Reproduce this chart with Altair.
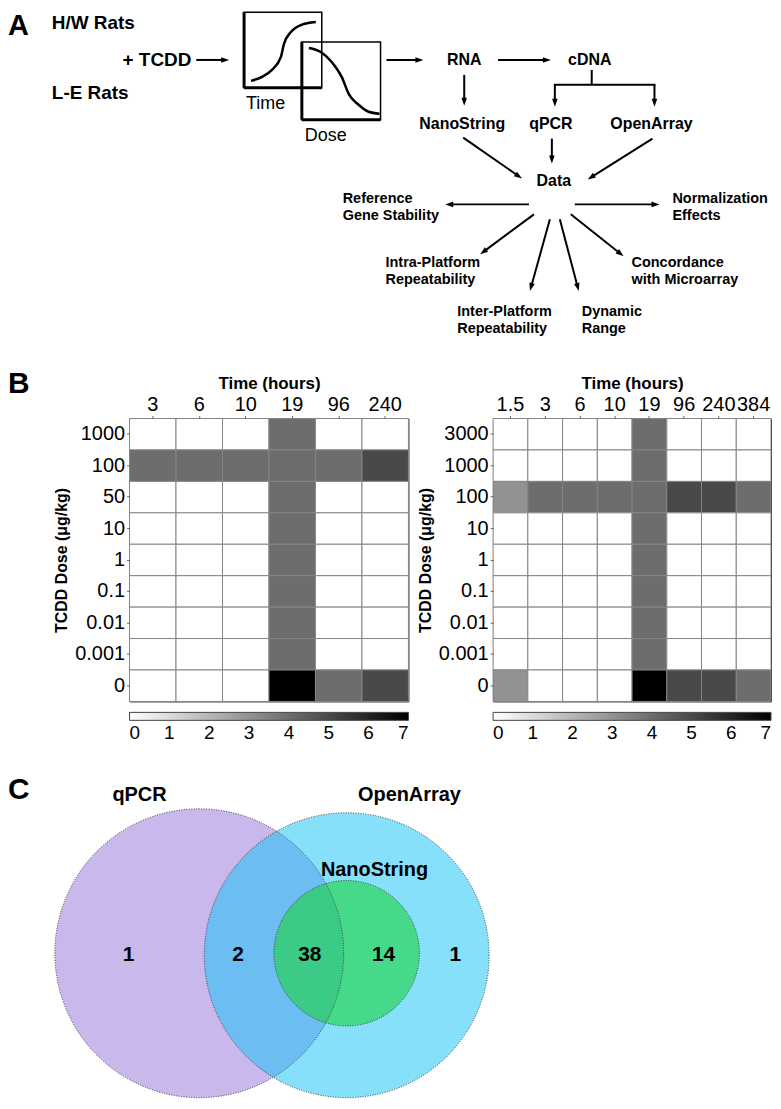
import math
import altair as alt
import pandas as pd

FONT = "Liberation Sans"
NARROW = "Liberation Sans Narrow, Liberation Sans, Arial, sans-serif"

# ---------------- Panel B data (heatmaps) ----------------
hw_times = ["3", "6", "10", "19", "96", "240"]
hw_doses = ["1000", "100", "50", "10", "1", "0.1", "0.01", "0.001", "0"]
hw_values = [
    [0, 0, 0, 4, 0, 0],
    [4, 4, 4, 4, 4, 5],
    [0, 0, 0, 4, 0, 0],
    [0, 0, 0, 4, 0, 0],
    [0, 0, 0, 4, 0, 0],
    [0, 0, 0, 4, 0, 0],
    [0, 0, 0, 4, 0, 0],
    [0, 0, 0, 4, 0, 0],
    [0, 0, 0, 7, 4, 5],
]
le_times = ["1.5", "3", "6", "10", "19", "96", "240", "384"]
le_doses = ["3000", "1000", "100", "10", "1", "0.1", "0.01", "0.001", "0"]
le_values = [
    [0, 0, 0, 0, 4, 0, 0, 0],
    [0, 0, 0, 0, 4, 0, 0, 0],
    [3, 4, 4, 4, 4, 5, 5, 4],
    [0, 0, 0, 0, 4, 0, 0, 0],
    [0, 0, 0, 0, 4, 0, 0, 0],
    [0, 0, 0, 0, 4, 0, 0, 0],
    [0, 0, 0, 0, 4, 0, 0, 0],
    [0, 0, 0, 0, 4, 0, 0, 0],
    [3, 0, 0, 0, 7, 5, 5, 4],
]
colorbar_ticks = [0, 1, 2, 3, 4, 5, 6, 7]

# ---------------- Panel C data (Venn) ----------------
venn_sets = ["qPCR", "OpenArray", "NanoString"]
venn_counts = ["1", "2", "38", "14", "1"]

# ---------------- Panel A content ----------------
flow_bold_left = ["H/W Rats", "+ TCDD", "L-E Rats"]
flow_bold_center = ["RNA", "cDNA", "NanoString", "qPCR", "OpenArray", "Data"]
flow_regular = ["Time", "Dose"]
flow_outcomes = ["Reference", "Gene Stability", "Normalization", "Effects",
                 "Intra-Platform", "Repeatability", "Inter-Platform", "Repeatability",
                 "Dynamic", "Range", "Concordance", "with Microarray"]

# ----- layout (page pixel coordinates) -----
A_XDOM = [8, 773]
A_YDOM = [4, 413]
C_YDOM = [417, 1097]

pos_bold_left = [(52, 16), (123, 53), (52, 86)]
pos_bold_center = [(466, 53), (592, 53), (464, 117), (553, 117), (654, 117), (556, 175)]
pos_regular = [(247, 97), (306, 129)]
pos_outcomes = [(344, 193), (344, 210), (675, 193), (675, 210),
                (387, 257), (387, 274), (459, 306), (459, 323),
                (584, 306), (584, 323), (634, 257), (634, 274)]
arrows = [(197, 53, 230, 53), (388, 53, 425, 53), (500, 53, 553, 53),
          (466, 68, 466, 99), (557, 78, 557, 100), (657, 78, 657, 100),
          (465, 131, 524, 172), (554, 132, 554, 157), (655, 132, 590, 173),
          (531, 198, 447, 198), (577, 198, 662, 198),
          (536, 208, 482, 248), (552, 213, 532, 285),
          (562, 213, 581, 285), (573, 208, 626, 250)]
plain_lines = [(594, 63, 594, 78), (556, 78, 658, 78)]
boxes = [(245, 5, 323, 81), (303, 35, 382, 113)]
thick_lines = [(245, 5, 245, 81), (245, 81, 323, 81), (303, 35, 303, 113), (303, 113, 382, 113)]
time_curve = [(252, 74), (263, 70), (273, 63), (282, 50), (285, 37), (292, 25), (302, 18), (317, 15)]
dose_curve = [(310, 41), (322, 45), (333, 55), (343, 70), (350, 87), (360, 98), (370, 105), (381, 107)]


def xs(dom, field="x"):
    return alt.X(f"{field}:Q", scale=alt.Scale(domain=dom, nice=False, zero=False), axis=None)


def ys(dom, field="y"):
    return alt.Y(f"{field}:Q", scale=alt.Scale(domain=dom, nice=False, zero=False, reverse=True), axis=None)


def text_layer(texts, positions, ydom, size, weight="bold", align="left"):
    df = pd.DataFrame({"t": texts, "x": [p[0] for p in positions], "y": [p[1] for p in positions]})
    return alt.Chart(df).mark_text(align=align, baseline="middle", font=FONT, fontSize=size,
                                   fontWeight=weight, color="black").encode(
        x=xs(A_XDOM), y=ys(ydom), text="t:N")


# ----- Panel A -----
seg_rows, head_rows = [], []
HEAD = 8
for (x1, y1, x2, y2) in arrows:
    dx, dy = x2 - x1, y2 - y1
    L = math.hypot(dx, dy)
    ux, uy = dx / L, dy / L
    seg_rows.append({"x": x1, "y": y1, "x2": x2 - ux * HEAD * 0.6, "y2": y2 - uy * HEAD * 0.6})
    head_rows.append({"x": x2 - ux * HEAD / 2, "y": y2 - uy * HEAD / 2,
                      "angle": math.degrees(math.atan2(ux, -uy)) % 360})
for (x1, y1, x2, y2) in plain_lines:
    seg_rows.append({"x": x1, "y": y1, "x2": x2, "y2": y2})
seg_df = pd.DataFrame(seg_rows)
head_df = pd.DataFrame(head_rows)

segs = alt.Chart(seg_df).mark_rule(color="black", strokeWidth=2).encode(
    x=xs(A_XDOM), y=ys(A_YDOM), x2="x2:Q", y2="y2:Q")
heads = alt.Chart(head_df).mark_point(shape="M0,-1L0.7,1L-0.7,1Z", filled=True, color="black",
                                      size=HEAD * HEAD, opacity=1).encode(
    x=xs(A_XDOM), y=ys(A_YDOM), angle=alt.Angle("angle:Q", scale=None))
box_df = pd.DataFrame([{"x": b[0], "y": b[1], "x2": b[2], "y2": b[3]} for b in boxes])
box_layer = alt.Chart(box_df).mark_rect(fillOpacity=0, stroke="black", strokeWidth=1.5).encode(
    x=xs(A_XDOM), y=ys(A_YDOM), x2="x2:Q", y2="y2:Q")
thick_df = pd.DataFrame([{"x": b[0], "y": b[1], "x2": b[2], "y2": b[3]} for b in thick_lines])
thick_layer = alt.Chart(thick_df).mark_rule(color="black", strokeWidth=3).encode(
    x=xs(A_XDOM), y=ys(A_YDOM), x2="x2:Q", y2="y2:Q")
curve_rows = []
for name, pts in (("time", time_curve), ("dose", dose_curve)):
    for i, (px, py) in enumerate(pts):
        curve_rows.append({"curve": name, "i": i, "x": px, "y": py})
curve_layer = alt.Chart(pd.DataFrame(curve_rows)).mark_line(
    color="black", strokeWidth=2.5, interpolate="monotone").encode(
    x=xs(A_XDOM), y=ys(A_YDOM), detail="curve:N", order="i:Q")

panel_a = alt.layer(
    box_layer, thick_layer, curve_layer, segs, heads,
    text_layer(["A"], [(8, 19)], A_YDOM, 29),
    text_layer(flow_bold_left, pos_bold_left, A_YDOM, 19),
    text_layer(flow_bold_center, pos_bold_center, A_YDOM, 16, align="center"),
    text_layer(flow_regular, pos_regular, A_YDOM, 18, weight="normal"),
    text_layer(flow_outcomes, pos_outcomes, A_YDOM, 14.5),
).properties(width=765, height=409)


# ----- Panel B -----
def heatmap(times, doses, values, width):
    rows = []
    for i, d in enumerate(doses):
        for j, t in enumerate(times):
            rows.append({"time": t, "dose": d, "value": values[i][j]})
    df = pd.DataFrame(rows)
    return alt.Chart(df).mark_rect(stroke="#858585", strokeWidth=1).encode(
        x=alt.X("time:N", sort=times, title="Time (hours)",
                scale=alt.Scale(paddingInner=0, paddingOuter=0),
                axis=alt.Axis(orient="top", labelAngle=0, labelFontSize=20, labelFont=FONT,
                              labelColor="black", tickSize=3, tickColor="#666", labelPadding=1,
                              labelOverlap=False, labelFlush=False, domain=False, grid=False,
                              titleFontSize=17, titleFont=FONT, titleFontWeight="bold",
                              titleColor="black", titlePadding=2)),
        y=alt.Y("dose:N", sort=doses, title="TCDD Dose (μg/kg)",
                scale=alt.Scale(paddingInner=0, paddingOuter=0),
                axis=alt.Axis(labelFontSize=20, labelFont=FONT, labelColor="black", tickSize=3,
                              tickColor="#666", labelPadding=2, labelOverlap=False, domain=False,
                              grid=False, titleFontSize=16, titleFont=FONT, titleFontWeight="bold",
                              titleColor="black", titlePadding=5)),
        color=alt.Color("value:Q", title=None,
                        scale=alt.Scale(domain=[0, 7], range=["#ffffff", "#000000"], interpolate="rgb"),
                        legend=alt.Legend(orient="none", legendX=0, legendY=295, direction="horizontal",
                                          gradientLength=width, gradientThickness=8, values=colorbar_ticks,
                                          labelFontSize=19, labelFont=NARROW, labelColor="black",
                                          labelAlign="center", labelOffset=4, padding=0,
                                          gradientStrokeColor="#444", gradientStrokeWidth=1)),
    ).properties(width=width, height=284, view=alt.ViewBackground(stroke="#222", strokeWidth=1))


spacer_b = alt.Chart(pd.DataFrame({"t": ["B"], "x": [8], "y": [382]})).mark_text(
    align="left", baseline="middle", font=FONT, fontSize=30, fontWeight="bold", color="black").encode(
    x=xs([8, 45]), y=ys([417, 701]), text="t:N").properties(width=37, height=284)

row_b = alt.hconcat(spacer_b, heatmap(hw_times, hw_doses, hw_values, 280),
                    heatmap(le_times, le_doses, le_values, 279),
                    spacing=85, bounds="flush").resolve_scale(color="independent")

# ----- Panel C -----
circ_pos = [(200, 953, 145), (348, 955, 143), (348, 953, 73)]
circ_fill = ["#c8b8ec", "#0fc1f5", "#1bd43f"]
circ_op = [1.0, 0.5, 0.6]
circle_layers = []
for k in range(3):
    cx, cy, r = circ_pos[k]
    d = pd.DataFrame({"set": [venn_sets[k]], "x": [cx], "y": [cy]})
    circle_layers.append(alt.Chart(d).mark_point(
        shape="circle", filled=True, size=(2 * r) ** 2, color=circ_fill[k], fillOpacity=circ_op[k],
        strokeWidth=0).encode(x=xs(A_XDOM), y=ys(C_YDOM)))
outline_layers = []
for k in range(3):
    cx, cy, r = circ_pos[k]
    d = pd.DataFrame({"set": [venn_sets[k]], "x": [cx], "y": [cy]})
    outline_layers.append(alt.Chart(d).mark_point(
        shape="circle", filled=False, size=(2 * r) ** 2, color="#3a3a3a", strokeWidth=1,
        strokeDash=[1, 1.5], opacity=1).encode(x=xs(A_XDOM), y=ys(C_YDOM)))


def text_c(texts, positions, size, align="center"):
    df = pd.DataFrame({"t": texts, "x": [p[0] for p in positions], "y": [p[1] for p in positions]})
    return alt.Chart(df).mark_text(align=align, baseline="middle", font=FONT, fontSize=size,
                                   fontWeight="bold", color="black").encode(
        x=xs(A_XDOM), y=ys(C_YDOM), text="t:N")


panel_c = alt.layer(
    *circle_layers, *outline_layers,
    text_c(["C"], [(8, 789)], 30, align="left"),
    text_c(venn_sets, [(140, 794), (411, 794), (376, 870)], 20),
    text_c(venn_counts, [(129, 955), (239, 955), (311, 955), (385, 955), (457, 955)], 21),
).properties(width=765, height=681)

chart = alt.vconcat(panel_a, row_b, panel_c, spacing=0, bounds="flush").properties(
    padding=0
).configure_view(strokeWidth=0)

chart.save("out.html", embed_options={"renderer": "svg", "actions": False})
